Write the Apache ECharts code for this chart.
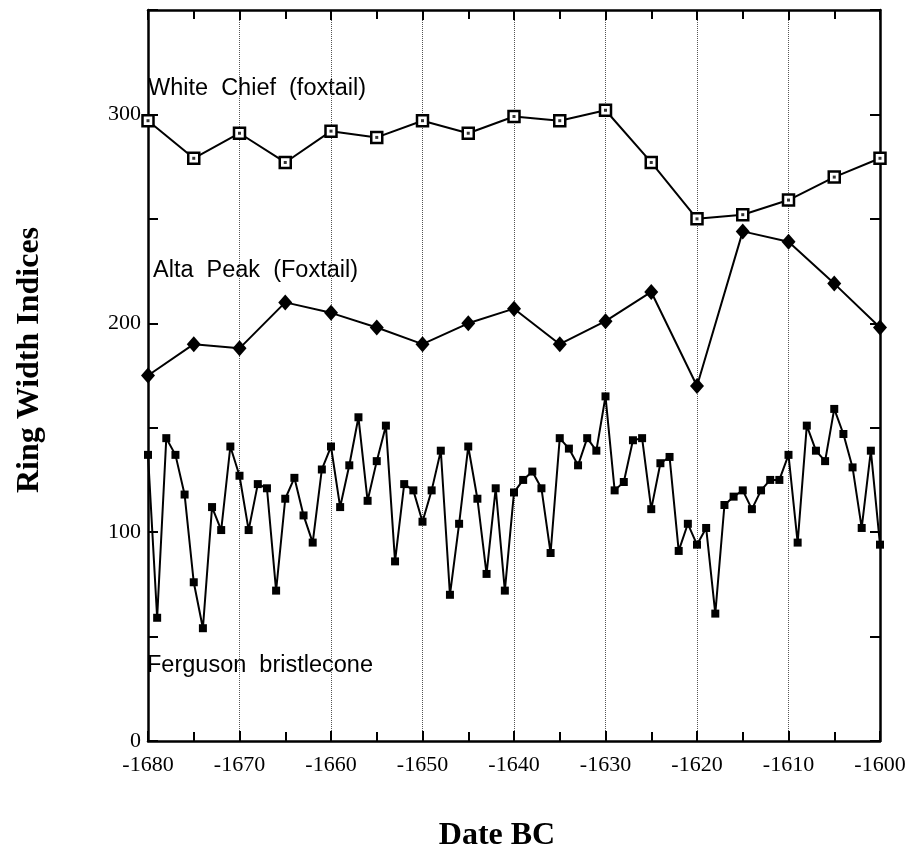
<!DOCTYPE html>
<html>
<head>
<meta charset="utf-8">
<title>Ring Width Indices</title>
<script src="https://cdn.jsdelivr.net/npm/echarts@6/dist/echarts.min.js"></script>
<style>
  html, body { margin: 0; padding: 0; background: #fff; }
  #chart { width: 921px; height: 859px; }
</style>
</head>
<body>
<div id="chart"></div>
<script>
// five-yearly series
var years5 = [-1680, -1675, -1670, -1665, -1660, -1655, -1650, -1645, -1640,
              -1635, -1630, -1625, -1620, -1615, -1610, -1605, -1600];
var whiteChief = [297, 279, 291, 277, 292, 289, 297, 291, 299,
                  297, 302, 277, 250, 252, 259, 270, 279];
var altaPeak = [175, 190, 188, 210, 205, 198, 190, 200, 207,
                190, 201, 215, 170, 244, 239, 219, 198];

// annual series, -1680 .. -1600
var fergusonStart = -1680;
var ferguson = [137, 59, 145, 137, 118, 76, 54, 112, 101, 141,
                127, 101, 123, 121, 72, 116, 126, 108, 95, 130,
                141, 112, 132, 155, 115, 134, 151, 86, 123, 120,
                105, 120, 139, 70, 104, 141, 116, 80, 121, 72,
                119, 125, 129, 121, 90, 145, 140, 132, 145, 139,
                165, 120, 124, 144, 145, 111, 133, 136, 91, 104,
                94, 102, 61, 113, 117, 120, 111, 120, 125, 125,
                137, 95, 151, 139, 134, 159, 147, 131, 102, 139, 94];

var xTicks = [-1680, -1670, -1660, -1650, -1640, -1630, -1620, -1610, -1600];
var yTicks = [0, 100, 200, 300];

function pairs(xs, ys) {
    return xs.map(function (x, i) { return [x, ys[i]]; });
}
var fergusonData = ferguson.map(function (v, i) { return [fergusonStart + i, v]; });

var serif = '"Liberation Serif", "Times New Roman", serif';
var sans = '"Liberation Sans", Arial, sans-serif';

var myChart = echarts.init(document.getElementById('chart'));

var option = {
    animation: false,
    backgroundColor: '#fff',
    grid: { left: 148, right: 41, top: 10, bottom: 118, containLabel: false },
    xAxis: [
        {
            type: 'value', position: 'bottom',
            min: -1680, max: -1600, interval: 10,
            axisLine: { show: true, onZero: false, lineStyle: { color: '#000', width: 2.5 } },
            axisTick: { show: true, inside: true, length: 10, lineStyle: { color: '#000', width: 2 } },
            minorTick: { show: true, splitNumber: 2, length: 9, lineStyle: { color: '#000', width: 2 } },
            axisLabel: {
                color: '#000', fontFamily: serif, fontSize: 22, margin: 13,
                formatter: function (v) { return xTicks.indexOf(v) >= 0 ? String(v) : ''; }
            },
            splitLine: { show: true, lineStyle: { color: '#555', width: 1, type: 'dotted' } }
        },
        {
            type: 'value', position: 'top',
            min: -1680, max: -1600, interval: 10,
            axisLine: { show: true, onZero: false, lineStyle: { color: '#000', width: 2.5 } },
            axisTick: { show: true, inside: true, length: 10, lineStyle: { color: '#000', width: 2 } },
            minorTick: { show: true, splitNumber: 2, length: 9, lineStyle: { color: '#000', width: 2 } },
            axisLabel: { show: false },
            splitLine: { show: false }
        }
    ],
    yAxis: [
        {
            type: 'value', position: 'left',
            min: 0, max: 350, interval: 50,
            axisLine: { show: true, onZero: false, lineStyle: { color: '#000', width: 2.5 } },
            axisTick: { show: true, inside: true, length: 10, lineStyle: { color: '#000', width: 2 } },
            axisLabel: {
                color: '#000', fontFamily: serif, fontSize: 22, margin: 7,
                formatter: function (v) { return yTicks.indexOf(v) >= 0 ? String(v) : ''; }
            },
            splitLine: { show: false }
        },
        {
            type: 'value', position: 'right',
            min: 0, max: 350, interval: 50,
            axisLine: { show: true, onZero: false, lineStyle: { color: '#000', width: 2.5 } },
            axisTick: { show: true, inside: true, length: 10, lineStyle: { color: '#000', width: 2 } },
            axisLabel: { show: false },
            splitLine: { show: false }
        }
    ],
    series: [
        {
            name: 'Ferguson bristlecone', type: 'line',
            data: fergusonData,
            symbol: 'rect', symbolSize: 8,
            lineStyle: { color: '#000', width: 2 },
            itemStyle: { color: '#000' },
            z: 3
        },
        {
            name: 'Alta Peak (Foxtail)', type: 'line',
            data: pairs(years5, altaPeak),
            symbol: 'diamond', symbolSize: [14, 16],
            lineStyle: { color: '#000', width: 2 },
            itemStyle: { color: '#000' },
            z: 3
        },
        {
            name: 'White Chief (foxtail)', type: 'line',
            data: pairs(years5, whiteChief),
            symbol: 'rect', symbolSize: 11, showAllSymbol: true,
            lineStyle: { color: '#000', width: 2 },
            itemStyle: { color: '#fff', borderColor: '#000', borderWidth: 2.5 },
            z: 3
        },
        {
            // centre dots of the open squares
            name: 'White Chief dots', type: 'scatter',
            data: pairs(years5, whiteChief),
            symbol: 'rect', symbolSize: 3,
            itemStyle: { color: '#000' },
            z: 4, silent: true
        }
    ],
    graphic: [
        { type: 'text', left: 148, top: 77,
          style: { text: 'White  Chief  (foxtail)', font: '23.5px ' + sans, fill: '#000' } },
        { type: 'text', left: 153, top: 259,
          style: { text: 'Alta  Peak  (Foxtail)', font: '23.5px ' + sans, fill: '#000' } },
        { type: 'text', left: 147, top: 654,
          style: { text: 'Ferguson  bristlecone', font: '23.5px ' + sans, fill: '#000' } },
        { type: 'text', x: 30, y: 360, rotation: Math.PI / 2,
          style: { text: 'Ring Width Indices', font: 'bold 32px ' + serif, fill: '#000',
                   align: 'center', verticalAlign: 'middle' } },
        { type: 'text', x: 497, y: 836,
          style: { text: 'Date BC', font: 'bold 32px ' + serif, fill: '#000',
                   align: 'center', verticalAlign: 'middle' } }
    ]
};

myChart.setOption(option);
</script>
</body>
</html>
